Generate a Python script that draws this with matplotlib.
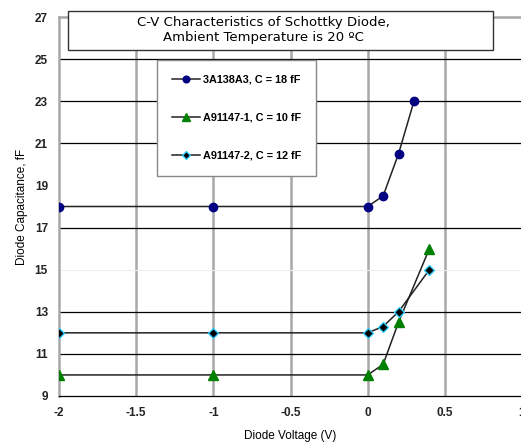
import matplotlib
matplotlib.use('Agg')
import matplotlib.pyplot as plt
from matplotlib.patches import Rectangle

# series
volts_a = [-2, -1, 0, 0.1, 0.2, 0.3]
cap_a = [18, 18, 18, 18.5, 20.5, 23]
volts_b = [-2, -1, 0, 0.1, 0.2, 0.4]
cap_b = [10, 10, 10, 10.5, 12.5, 16]
volts_c = [-2, -1, 0, 0.1, 0.2, 0.4]
cap_c = [12, 12, 12, 12.3, 13, 15]

labels = ['3A138A3, C = 18 fF', 'A91147-1, C = 10 fF', 'A91147-2, C = 12 fF']
x_ticks = [-2, -1.5, -1, -0.5, 0, 0.5, 1]
y_ticks = [9, 11, 13, 15, 17, 19, 21, 23, 25, 27]

W, H = 521, 443
fig = plt.figure(figsize=(W / 100, H / 100), dpi=100)
ax = fig.add_axes([59 / W, 47 / H, 463 / W, 379 / H])

ax.set_xlim(-2, 1)
ax.set_ylim(9, 27)

# grid: grey verticals, black horizontals (15 faint, 19 missing)
for xv in x_ticks[1:-1]:
    ax.axvline(xv, color='#a8a8a8', lw=1.8, zorder=1)
for yv in y_ticks[1:-1]:
    if yv == 19:
        continue
    if yv == 15:
        ax.axhline(yv, color='#eeeeee', lw=0.8, zorder=1)
    else:
        ax.axhline(yv, color='black', lw=0.9, zorder=1)

ax.plot(volts_a, cap_a, color='#222222', lw=1.1, marker='o', ms=6,
        mfc='#000080', mec='#000080', label=labels[0], zorder=3)
ax.plot(volts_b, cap_b, color='#222222', lw=1.1, marker='^', ms=7,
        mfc='#008000', mec='#008000', label=labels[1], zorder=3)
ax.plot(volts_c, cap_c, color='#222222', lw=1.1, marker='D', ms=5,
        mfc='black', mec='#33ccff', mew=1.0, label=labels[2], zorder=4)

for side in ['left', 'top']:
    ax.spines[side].set_color('#a8a8a8')
    ax.spines[side].set_linewidth(1.8)
ax.spines['right'].set_visible(False)
ax.spines['bottom'].set_color('black')
ax.spines['bottom'].set_linewidth(0.9)

ax.set_xticks(x_ticks, ['-2', '-1.5', '-1', '-0.5', '0', '0.5', '1'])
ax.set_yticks(y_ticks)
ax.tick_params(length=0, labelsize=8.5, pad=8, colors='#222222')
for t in ax.get_yticklabels() + ax.get_xticklabels():
    t.set_fontweight('bold')
    t.set_family('Liberation Sans')

ax.set_xlabel('Diode Voltage (V)', fontsize=8.5, labelpad=8,
              family='Liberation Sans')
ax.set_ylabel('Diode Capacitance, fF', fontsize=8.5, labelpad=5,
              family='Liberation Sans')

leg = ax.legend(loc='upper left', bbox_to_anchor=(157 / W, 1 - 60 / H),
                bbox_transform=fig.transFigure, borderaxespad=0,
                prop={'family': 'Liberation Sans', 'size': 7.8, 'weight': 'bold'},
                labelspacing=2.6, handlelength=2.6, borderpad=1.35,
                handletextpad=0.3, fancybox=False, framealpha=1,
                edgecolor='#888888', markerscale=0.8)
leg.get_frame().set_linewidth(1.0)
leg.set_zorder(6)

fig.patches.append(Rectangle((68 / W, 1 - 50 / H), 425 / W, 39 / H,
                             transform=fig.transFigure, facecolor='white',
                             edgecolor='#333333', lw=1.0, zorder=5))
fig.text(263 / W, 1 - 30 / H, 'C-V Characteristics of Schottky Diode,\nAmbient Temperature is 20 \u00baC',
         ha='center', va='center', fontsize=9.5, linespacing=1.2, zorder=6)

fig.savefig('out.png', dpi=100)
